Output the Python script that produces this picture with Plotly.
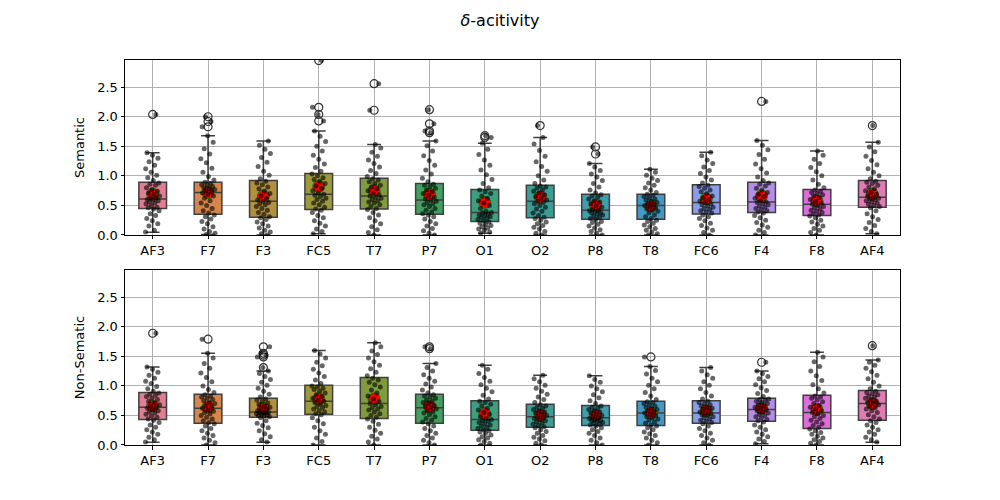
import plotly.graph_objects as go
from plotly.subplots import make_subplots

channels = ["AF3", "F7", "F3", "FC5", "T7", "P7", "O1", "O2", "P8", "T8", "FC6", "F4", "F8", "AF4"]
colors = ["#df7f91", "#d6854b", "#b3903f", "#9c9a3d", "#7f9b3e", "#42a05e", "#3d9e80",
          "#3e9c95", "#409dac", "#4399c4", "#8a9ee8", "#b68de6", "#dc6ed9", "#e07bb4"]

# ---- Semantic ----
sem_q1 = [0.45, 0.35, 0.30, 0.43, 0.44, 0.35, 0.23, 0.29, 0.265, 0.265, 0.355, 0.38, 0.33, 0.47]
sem_med = [0.61, 0.72, 0.57, 0.69, 0.66, 0.59, 0.38, 0.57, 0.42, 0.50, 0.55, 0.56, 0.52, 0.64]
sem_q3 = [0.89, 0.89, 0.92, 1.04, 0.96, 0.87, 0.77, 0.84, 0.69, 0.69, 0.85, 0.89, 0.77, 0.92]
sem_lo = [0.045, 0.01, 0.0, 0.02, 0.0, 0.0, 0.03, 0.0, 0.0, 0.0, 0.0, 0.0, 0.0, 0.02]
sem_hi = [1.39, 1.68, 1.59, 1.76, 1.53, 1.59, 1.55, 1.65, 1.21, 1.11, 1.40, 1.60, 1.42, 1.57]
sem_mean = [0.69, 0.72, 0.66, 0.82, 0.75, 0.69, 0.55, 0.64, 0.50, 0.49, 0.61, 0.66, 0.58, 0.69]
sem_out = [[2.04], [1.83, 1.92, 2.00], [], [1.93, 2.04, 2.16, 2.95], [2.11, 2.56],
           [1.73, 1.76, 1.88, 2.12], [1.65, 1.68], [1.85], [1.37, 1.49], [], [], [2.26], [], [1.85]]
sem_pts = [
    [0.05, 0.08, 0.15, 0.19, 0.24, 0.28, 0.33, 0.36, 0.41, 0.44, 0.46, 0.47, 0.50, 0.53, 0.54, 0.56, 0.58, 0.59, 0.60, 0.62,
     0.63, 0.66, 0.69, 0.71, 0.74, 0.77, 0.80, 0.84, 0.86, 0.88, 0.92, 0.97, 1.01, 1.06, 1.12, 1.18, 1.24, 1.30, 1.35, 1.39, 2.04],
    [0.01, 0.03, 0.06, 0.10, 0.14, 0.19, 0.23, 0.27, 0.31, 0.34, 0.37, 0.41, 0.45, 0.50, 0.54, 0.58, 0.62, 0.66, 0.69, 0.71,
     0.73, 0.75, 0.77, 0.78, 0.80, 0.82, 0.84, 0.85, 0.87, 0.89, 0.93, 0.99, 1.06, 1.13, 1.22, 1.29, 1.37, 1.46, 1.57, 1.68,
     1.83, 1.92, 2.00],
    [0.00, 0.02, 0.05, 0.08, 0.12, 0.15, 0.19, 0.22, 0.26, 0.29, 0.31, 0.35, 0.38, 0.42, 0.45, 0.48, 0.51, 0.53, 0.55, 0.57,
     0.59, 0.62, 0.66, 0.70, 0.74, 0.78, 0.81, 0.85, 0.88, 0.91, 0.95, 1.01, 1.08, 1.16, 1.23, 1.31, 1.38, 1.45, 1.52, 1.59],
    [0.02, 0.06, 0.10, 0.15, 0.20, 0.24, 0.29, 0.33, 0.38, 0.42, 0.44, 0.47, 0.51, 0.54, 0.57, 0.60, 0.62, 0.65, 0.67, 0.69,
     0.71, 0.75, 0.79, 0.83, 0.87, 0.91, 0.94, 0.97, 1.00, 1.03, 1.08, 1.14, 1.20, 1.28, 1.35, 1.42, 1.50, 1.58, 1.67, 1.76,
     1.93, 2.04, 2.16, 2.95],
    [0.00, 0.04, 0.09, 0.14, 0.19, 0.24, 0.29, 0.34, 0.38, 0.43, 0.45, 0.48, 0.51, 0.54, 0.56, 0.58, 0.60, 0.62, 0.64, 0.66,
     0.68, 0.71, 0.75, 0.78, 0.81, 0.84, 0.87, 0.90, 0.93, 0.95, 0.99, 1.04, 1.09, 1.15, 1.21, 1.27, 1.33, 1.40, 1.47, 1.53,
     2.11, 2.56],
    [0.00, 0.03, 0.07, 0.11, 0.15, 0.19, 0.23, 0.27, 0.31, 0.34, 0.36, 0.39, 0.42, 0.45, 0.48, 0.51, 0.53, 0.55, 0.57, 0.59,
     0.61, 0.64, 0.67, 0.70, 0.73, 0.76, 0.79, 0.82, 0.84, 0.86, 0.90, 0.96, 1.03, 1.10, 1.18, 1.26, 1.34, 1.42, 1.51, 1.59,
     1.73, 1.76, 1.88, 2.12],
    [0.03, 0.05, 0.08, 0.10, 0.12, 0.14, 0.16, 0.18, 0.20, 0.22, 0.24, 0.26, 0.28, 0.30, 0.31, 0.33, 0.34, 0.35, 0.37, 0.38,
     0.40, 0.45, 0.50, 0.54, 0.58, 0.62, 0.66, 0.70, 0.73, 0.76, 0.80, 0.87, 0.94, 1.02, 1.10, 1.18, 1.27, 1.36, 1.45, 1.55,
     1.65, 1.68],
    [0.00, 0.03, 0.06, 0.10, 0.13, 0.16, 0.19, 0.22, 0.25, 0.28, 0.30, 0.33, 0.37, 0.40, 0.44, 0.47, 0.50, 0.53, 0.55, 0.57,
     0.59, 0.62, 0.65, 0.68, 0.71, 0.74, 0.76, 0.79, 0.81, 0.83, 0.87, 0.93, 1.00, 1.08, 1.16, 1.24, 1.33, 1.43, 1.54, 1.65, 1.85],
    [0.00, 0.03, 0.06, 0.09, 0.12, 0.15, 0.18, 0.21, 0.23, 0.26, 0.28, 0.30, 0.32, 0.34, 0.35, 0.37, 0.38, 0.40, 0.41, 0.42,
     0.44, 0.47, 0.50, 0.53, 0.56, 0.58, 0.61, 0.64, 0.66, 0.68, 0.71, 0.76, 0.81, 0.87, 0.92, 0.98, 1.03, 1.09, 1.15, 1.21,
     1.37, 1.49],
    [0.00, 0.02, 0.05, 0.08, 0.11, 0.14, 0.17, 0.20, 0.23, 0.25, 0.28, 0.31, 0.34, 0.37, 0.40, 0.42, 0.44, 0.46, 0.48, 0.50,
     0.51, 0.53, 0.55, 0.57, 0.59, 0.61, 0.63, 0.65, 0.67, 0.69, 0.72, 0.76, 0.80, 0.84, 0.88, 0.92, 0.96, 1.01, 1.06, 1.11],
    [0.00, 0.04, 0.08, 0.12, 0.16, 0.20, 0.24, 0.28, 0.31, 0.34, 0.37, 0.39, 0.41, 0.43, 0.45, 0.47, 0.49, 0.51, 0.53, 0.55,
     0.57, 0.60, 0.63, 0.66, 0.70, 0.73, 0.76, 0.79, 0.82, 0.84, 0.88, 0.93, 0.98, 1.04, 1.09, 1.15, 1.21, 1.27, 1.34, 1.40],
    [0.00, 0.04, 0.08, 0.13, 0.17, 0.21, 0.25, 0.29, 0.33, 0.37, 0.39, 0.41, 0.43, 0.45, 0.47, 0.49, 0.51, 0.53, 0.55, 0.56,
     0.58, 0.62, 0.65, 0.69, 0.72, 0.76, 0.79, 0.83, 0.86, 0.88, 0.92, 0.98, 1.05, 1.12, 1.20, 1.28, 1.36, 1.44, 1.52, 1.60, 2.26],
    [0.00, 0.04, 0.08, 0.11, 0.15, 0.18, 0.22, 0.25, 0.29, 0.32, 0.34, 0.36, 0.38, 0.40, 0.42, 0.44, 0.46, 0.48, 0.50, 0.52,
     0.54, 0.57, 0.60, 0.63, 0.66, 0.68, 0.70, 0.72, 0.74, 0.76, 0.80, 0.86, 0.93, 1.00, 1.07, 1.14, 1.21, 1.28, 1.35, 1.42],
    [0.02, 0.06, 0.11, 0.16, 0.21, 0.26, 0.31, 0.36, 0.41, 0.46, 0.48, 0.50, 0.52, 0.54, 0.56, 0.58, 0.59, 0.61, 0.62, 0.64,
     0.66, 0.69, 0.72, 0.75, 0.78, 0.81, 0.84, 0.87, 0.89, 0.91, 0.95, 1.00, 1.06, 1.12, 1.19, 1.26, 1.33, 1.41, 1.49, 1.57, 1.85],
]

# ---- Non-Sematic ----
non_q1 = [0.43, 0.37, 0.47, 0.52, 0.45, 0.37, 0.25, 0.30, 0.33, 0.33, 0.37, 0.40, 0.28, 0.42]
non_med = [0.64, 0.62, 0.56, 0.74, 0.70, 0.63, 0.43, 0.48, 0.46, 0.54, 0.54, 0.60, 0.55, 0.70]
non_q3 = [0.89, 0.86, 0.79, 1.01, 1.14, 0.86, 0.75, 0.69, 0.67, 0.74, 0.75, 0.79, 0.84, 0.92]
non_lo = [0.045, 0.0, 0.045, 0.0, 0.0, 0.0, 0.0, 0.0, 0.0, 0.0, 0.0, 0.02, 0.0, 0.045]
non_hi = [1.32, 1.55, 1.25, 1.60, 1.73, 1.38, 1.35, 1.18, 1.17, 1.33, 1.31, 1.25, 1.57, 1.44]
non_mean = [0.66, 0.64, 0.62, 0.78, 0.78, 0.65, 0.53, 0.50, 0.50, 0.54, 0.58, 0.62, 0.60, 0.70]
non_out = [[1.89], [1.79], [1.31, 1.49, 1.52, 1.55, 1.66], [], [], [1.63, 1.66], [], [], [], [1.49], [], [1.40], [], [1.68]]
non_pts = [
    [0.05, 0.09, 0.13, 0.18, 0.22, 0.26, 0.30, 0.34, 0.38, 0.42, 0.44, 0.47, 0.49, 0.52, 0.54, 0.56, 0.58, 0.60, 0.62, 0.64,
     0.66, 0.68, 0.71, 0.74, 0.77, 0.79, 0.82, 0.84, 0.86, 0.88, 0.91, 0.95, 0.99, 1.04, 1.08, 1.13, 1.18, 1.23, 1.28, 1.32, 1.89],
    [0.00, 0.04, 0.08, 0.12, 0.16, 0.20, 0.24, 0.28, 0.32, 0.36, 0.38, 0.41, 0.44, 0.47, 0.50, 0.53, 0.55, 0.57, 0.59, 0.62,
     0.64, 0.67, 0.70, 0.72, 0.75, 0.77, 0.79, 0.81, 0.83, 0.85, 0.89, 0.94, 1.00, 1.07, 1.14, 1.22, 1.30, 1.38, 1.47, 1.55, 1.79],
    [0.05, 0.09, 0.14, 0.19, 0.24, 0.29, 0.33, 0.37, 0.41, 0.46, 0.48, 0.49, 0.50, 0.51, 0.52, 0.53, 0.54, 0.55, 0.55, 0.56,
     0.58, 0.60, 0.62, 0.64, 0.66, 0.69, 0.71, 0.74, 0.76, 0.78, 0.81, 0.86, 0.91, 0.96, 1.01, 1.06, 1.11, 1.16, 1.21, 1.25,
     1.31, 1.49, 1.52, 1.55, 1.66],
    [0.00, 0.06, 0.12, 0.18, 0.24, 0.30, 0.36, 0.41, 0.46, 0.51, 0.53, 0.56, 0.58, 0.61, 0.63, 0.65, 0.67, 0.69, 0.72, 0.74,
     0.76, 0.79, 0.82, 0.85, 0.88, 0.91, 0.94, 0.96, 0.98, 1.00, 1.04, 1.10, 1.16, 1.22, 1.28, 1.34, 1.40, 1.47, 1.54, 1.60],
    [0.00, 0.05, 0.10, 0.15, 0.20, 0.25, 0.30, 0.35, 0.40, 0.44, 0.47, 0.50, 0.53, 0.56, 0.59, 0.61, 0.63, 0.65, 0.68, 0.70,
     0.73, 0.78, 0.83, 0.88, 0.93, 0.98, 1.02, 1.06, 1.10, 1.13, 1.17, 1.23, 1.29, 1.35, 1.41, 1.47, 1.53, 1.59, 1.66, 1.73],
    [0.00, 0.04, 0.08, 0.12, 0.16, 0.20, 0.24, 0.28, 0.32, 0.36, 0.39, 0.42, 0.45, 0.48, 0.51, 0.54, 0.56, 0.58, 0.61, 0.63,
     0.65, 0.67, 0.70, 0.72, 0.74, 0.76, 0.79, 0.81, 0.83, 0.85, 0.88, 0.93, 0.98, 1.03, 1.08, 1.13, 1.19, 1.25, 1.31, 1.38,
     1.63, 1.66],
    [0.00, 0.03, 0.06, 0.09, 0.12, 0.14, 0.17, 0.20, 0.22, 0.24, 0.26, 0.28, 0.30, 0.32, 0.34, 0.36, 0.38, 0.40, 0.41, 0.43,
     0.45, 0.48, 0.52, 0.55, 0.59, 0.62, 0.66, 0.69, 0.72, 0.74, 0.78, 0.84, 0.90, 0.96, 1.02, 1.08, 1.14, 1.21, 1.28, 1.35],
    [0.00, 0.03, 0.07, 0.10, 0.13, 0.16, 0.20, 0.23, 0.26, 0.29, 0.31, 0.33, 0.35, 0.37, 0.39, 0.41, 0.43, 0.45, 0.46, 0.48,
     0.50, 0.52, 0.54, 0.56, 0.58, 0.60, 0.62, 0.64, 0.66, 0.68, 0.72, 0.77, 0.81, 0.86, 0.91, 0.96, 1.01, 1.07, 1.12, 1.18],
    [0.00, 0.04, 0.08, 0.12, 0.16, 0.20, 0.23, 0.26, 0.29, 0.32, 0.34, 0.35, 0.37, 0.38, 0.40, 0.41, 0.42, 0.44, 0.45, 0.46,
     0.48, 0.50, 0.52, 0.54, 0.56, 0.58, 0.60, 0.62, 0.64, 0.66, 0.70, 0.75, 0.80, 0.85, 0.90, 0.95, 1.00, 1.06, 1.11, 1.17],
    [0.00, 0.04, 0.08, 0.12, 0.16, 0.19, 0.22, 0.26, 0.29, 0.32, 0.34, 0.37, 0.39, 0.42, 0.44, 0.46, 0.48, 0.50, 0.52, 0.54,
     0.56, 0.58, 0.60, 0.62, 0.64, 0.66, 0.68, 0.70, 0.72, 0.73, 0.77, 0.83, 0.89, 0.95, 1.01, 1.07, 1.13, 1.20, 1.26, 1.33, 1.49],
    [0.00, 0.04, 0.08, 0.12, 0.16, 0.20, 0.24, 0.28, 0.32, 0.36, 0.38, 0.40, 0.42, 0.44, 0.46, 0.48, 0.50, 0.51, 0.53, 0.54,
     0.56, 0.58, 0.60, 0.62, 0.64, 0.66, 0.68, 0.70, 0.72, 0.74, 0.78, 0.83, 0.89, 0.95, 1.01, 1.07, 1.13, 1.19, 1.25, 1.31],
    [0.02, 0.06, 0.10, 0.14, 0.18, 0.22, 0.26, 0.30, 0.34, 0.39, 0.41, 0.43, 0.46, 0.48, 0.50, 0.52, 0.54, 0.56, 0.58, 0.60,
     0.62, 0.64, 0.66, 0.68, 0.70, 0.72, 0.74, 0.76, 0.77, 0.78, 0.82, 0.87, 0.92, 0.97, 1.02, 1.07, 1.12, 1.16, 1.21, 1.25, 1.40],
    [0.00, 0.03, 0.06, 0.09, 0.12, 0.15, 0.18, 0.21, 0.24, 0.27, 0.30, 0.33, 0.36, 0.39, 0.42, 0.45, 0.48, 0.50, 0.53, 0.55,
     0.58, 0.61, 0.64, 0.67, 0.70, 0.73, 0.76, 0.79, 0.81, 0.83, 0.88, 0.95, 1.02, 1.09, 1.17, 1.25, 1.33, 1.41, 1.49, 1.57],
    [0.05, 0.09, 0.13, 0.18, 0.22, 0.26, 0.30, 0.34, 0.38, 0.41, 0.44, 0.48, 0.51, 0.55, 0.58, 0.61, 0.63, 0.65, 0.68, 0.70,
     0.72, 0.74, 0.76, 0.79, 0.81, 0.83, 0.85, 0.87, 0.89, 0.91, 0.95, 1.00, 1.06, 1.12, 1.18, 1.24, 1.30, 1.35, 1.40, 1.44, 1.68],
]

y_ticks = [0.0, 0.5, 1.0, 1.5, 2.0, 2.5]
y_ticktext = ["0.0", "0.5", "1.0", "1.5", "2.0", "2.5"]
y_titles = ["Semantic", "Non-Sematic"]

FONT = "DejaVu Sans"
EDGE = "#3f3f3f"

fig = make_subplots(rows=2, cols=1)

panels = [
    (1, sem_q1, sem_med, sem_q3, sem_lo, sem_hi, sem_mean, sem_out, sem_pts),
    (2, non_q1, non_med, non_q3, non_lo, non_hi, non_mean, non_out, non_pts),
]

for row, q1, med, q3, lo, hi, mean, outl, pts in panels:
    for i in range(len(channels)):
        fig.add_trace(go.Box(
            x=[i], q1=[q1[i]], median=[med[i]], q3=[q3[i]],
            lowerfence=[lo[i]], upperfence=[hi[i]],
            width=0.5, whiskerwidth=0.5, boxpoints=False,
            fillcolor=colors[i], line=dict(color=EDGE, width=1.5),
            showlegend=False, hoverinfo="skip"), row=row, col=1)
    ox, oy = [], []
    for i, vals in enumerate(outl):
        for v in vals:
            ox.append(i)
            oy.append(v)
    fig.add_trace(go.Scatter(
        x=ox, y=oy, mode="markers", showlegend=False, hoverinfo="skip",
        marker=dict(symbol="circle", size=8, color="rgba(0,0,0,0)",
                    line=dict(color="#333333", width=1.2))), row=row, col=1)
    fig.add_trace(go.Scatter(
        x=list(range(len(channels))), y=mean, mode="markers", showlegend=False, hoverinfo="skip",
        marker=dict(symbol="circle", size=12, color="red",
                    line=dict(color="green", width=1))), row=row, col=1)
    sx, sy = [], []
    for i, vals in enumerate(pts):
        for k, v in enumerate(vals):
            off = ((k * 0.618034 + i * 0.37) % 1.0) - 0.5
            sx.append(i + off * 0.26)
            sy.append(v)
    fig.add_trace(go.Scatter(
        x=sx, y=sy, mode="markers", showlegend=False, hoverinfo="skip",
        marker=dict(symbol="circle", size=5, color="rgba(0,0,0,0.6)", line=dict(width=0))),
        row=row, col=1)

axis_common = dict(
    showgrid=True, gridcolor="#b0b0b0", gridwidth=0.8, zeroline=False,
    showline=True, linecolor="black", linewidth=1, mirror=True,
    ticks="outside", ticklen=3.5, tickwidth=0.8, tickcolor="black",
    tickfont=dict(family=FONT, size=13, color="black"),
)

for r in (1, 2):
    fig.update_xaxes(range=[-0.5, 13.5], tickmode="array", tickvals=list(range(len(channels))),
                     ticktext=channels, **axis_common, row=r, col=1)
    fig.update_yaxes(range=[0, 2.96], tickmode="array", tickvals=y_ticks, ticktext=y_ticktext,
                     title=dict(text=y_titles[r - 1], font=dict(family=FONT, size=13, color="black"), standoff=9),
                     **axis_common, row=r, col=1)

# the page body adds an 8 px offset; margins compensate so the axes land where the reference has them
fig.update_layout(
    width=1000, height=500,
    margin=dict(l=117, r=108, t=52, b=63),
    paper_bgcolor="white", plot_bgcolor="white",
    boxmode="overlay",
    showlegend=False,
    font=dict(family=FONT, color="black"),
    title=dict(text="<i>δ</i>-acitivity", x=0.492, xref="container", xanchor="center",
               y=0.976, yref="container", yanchor="middle",
               font=dict(family=FONT, size=16, color="black")),
    xaxis=dict(domain=[0, 1]), xaxis2=dict(domain=[0, 1]),
    yaxis=dict(domain=[0.5455, 1.0]), yaxis2=dict(domain=[0.0, 0.4545]),
)

fig.write_html("out.html")
